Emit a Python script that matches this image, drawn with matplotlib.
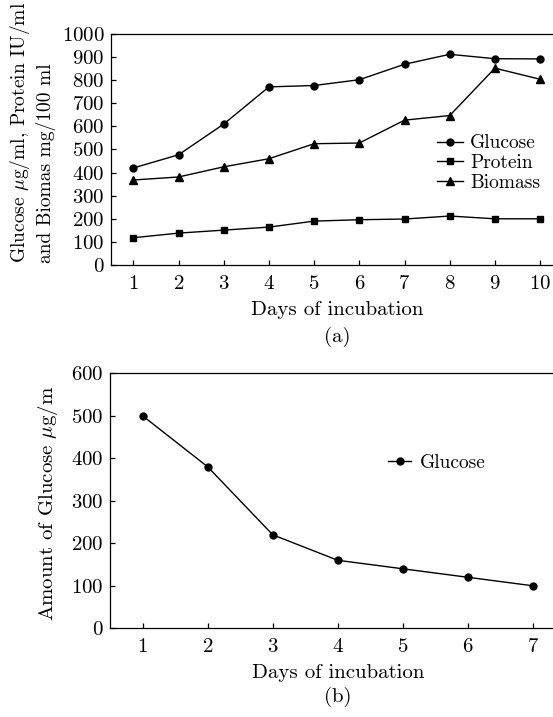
import numpy as np
import matplotlib
matplotlib.use("Agg")
import matplotlib.pyplot as plt

plt.rcParams['font.family'] = 'serif'
plt.rcParams['font.serif'] = ['cmr10', 'DejaVu Serif']
plt.rcParams['mathtext.fontset'] = 'cm'
plt.rcParams['axes.formatter.use_mathtext'] = True
plt.rcParams['axes.unicode_minus'] = False

# (a) данні
days_a = [1, 2, 3, 4, 5, 6, 7, 8, 9, 10]
glucose_a = [420, 477, 610, 771, 777, 802, 869, 912, 893, 892]
protein_a = [118, 138, 151, 164, 190, 196, 199, 212, 200, 200]
biomass_a = [368, 381, 425, 460, 525, 528, 627, 647, 852, 804]

# (b) данні
days_b = [1, 2, 3, 4, 5, 6, 7]
glucose_b = [500, 380, 220, 160, 140, 120, 100]

fig = plt.figure(figsize=(5.53, 7.17), dpi=100)

ax1 = fig.add_axes([0.2002, 0.6304, 0.8174, 0.3222])
ax2 = fig.add_axes([0.1990, 0.1237, 0.8237, 0.3557])


def style_axis(ax):
    for s in ax.spines.values():
        s.set_linewidth(0.9)
    ax.spines['right'].set_visible(False)
    ax.tick_params(direction='in', length=3.5, width=0.9, labelsize=15)
    ax.tick_params(axis='y', pad=4.5)
    ax.tick_params(axis='x', pad=7)


kw = dict(color='black', linewidth=1.0)
ax1.plot(days_a, glucose_a, marker='o', markersize=5, label='Glucose', **kw)
ax1.plot(days_a, protein_a, marker='s', markersize=4.5, label='Protein', **kw)
ax1.plot(days_a, biomass_a, marker='^', markersize=5.5, label='Biomass', **kw)
ax1.set_xlim(0.5, 10.5)
ax1.set_ylim(0, 1000)
ax1.set_xticks(days_a)
ax1.set_yticks(np.arange(0, 1001, 100))
style_axis(ax1)
ax1.set_xlabel('Days of incubation', fontsize=15, labelpad=6)
ax1.legend(loc='center left', bbox_to_anchor=(0.7897, 0.7722),
           bbox_transform=fig.transFigure, frameon=False, fontsize=14,
           borderpad=0, borderaxespad=0, labelspacing=0.1,
           handlelength=1.37, handletextpad=0.35)

fig.text(0.058, 1 - 263 / 717,
         'Glucose $\\mu$g/ml, Protein IU/ml\nand Biomas mg/100 ml',
         rotation=90, ha='center', va='bottom', multialignment='left',
         fontsize=14, linespacing=1.25)
fig.text(337 / 553, 1 - 337 / 717, '(a)', ha='center', va='center', fontsize=15)

ax2.plot(days_b, glucose_b, marker='o', markersize=5, label='Glucose', **kw)
ax2.set_xlim(0.5, 7.5)
ax2.set_ylim(0, 600)
ax2.set_xticks(days_b)
ax2.set_yticks(np.arange(0, 601, 100))
style_axis(ax2)
ax2.set_xlabel('Days of incubation', fontsize=15, labelpad=6)
fig.text(47.6 / 553, 1 - 503 / 717, 'Amount of Glucose $\\mu$g/m',
         rotation=90, ha='center', va='center', fontsize=15)
ax2.legend(loc='center left', bbox_to_anchor=(388 / 553, 1 - 463 / 717),
           bbox_transform=fig.transFigure, frameon=False, fontsize=14,
           borderpad=0, borderaxespad=0,
           handlelength=1.2, handletextpad=0.45)
fig.text(338 / 553, 1 - 697 / 717, '(b)', ha='center', va='center', fontsize=15)

fig.savefig('out.png', dpi=100)
